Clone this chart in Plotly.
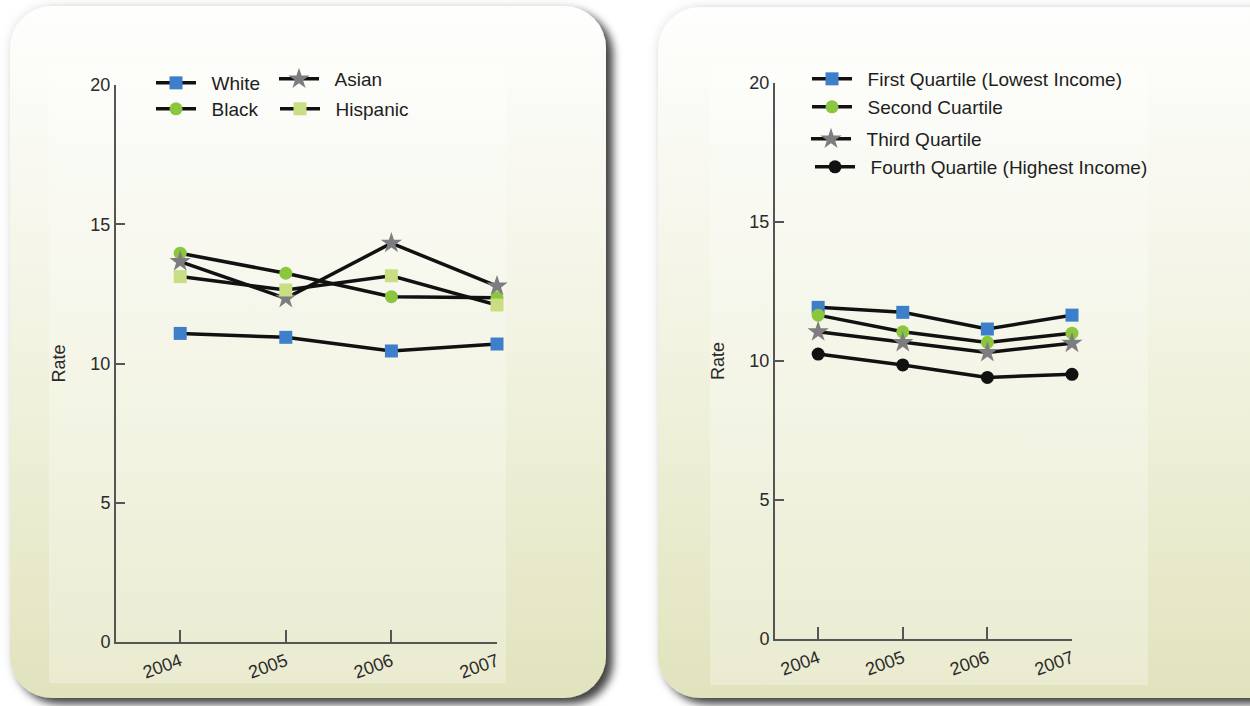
import base64
import plotly.graph_objects as go

# ---------------- data ----------------
years = [2004, 2005, 2006, 2007]
year_labels = ["2004", "2005", "2006", "2007"]

race_names = ["White", "Black", "Asian", "Hispanic"]
white = [11.08, 10.94, 10.45, 10.70]
black = [13.96, 13.24, 12.40, 12.36]
asian = [13.66, 12.34, 14.32, 12.78]
hispanic = [13.12, 12.64, 13.15, 12.10]

income_names = ["First Quartile (Lowest Income)", "Second Cuartile",
                "Third Quartile", "Fourth Quartile (Highest Income)"]
first_q = [11.93, 11.75, 11.15, 11.65]
second_q = [11.65, 11.05, 10.67, 11.00]
third_q = [11.05, 10.67, 10.31, 10.64]
fourth_q = [10.25, 9.86, 9.41, 9.52]

y_ticks = [0, 5, 10, 15, 20]

# ---------------- geometry helpers ----------------
W, H = 1250, 706
FONT = "Liberation Sans, Arial, Helvetica, sans-serif"
NB = "\u00a0\u00a0"


def px_x(v):
    return v / W


def px_y(v):
    return 1 - v / H


# ---------------- background (panels) as SVG image ----------------
svg = f"""<svg xmlns="http://www.w3.org/2000/svg" width="{W}" height="{H}" viewBox="0 0 {W} {H}">
<defs>
<linearGradient id="g" x1="0" y1="0" x2="0" y2="1">
<stop offset="0" stop-color="#fefefd"/>
<stop offset="0.25" stop-color="#f8f8f0"/>
<stop offset="0.6" stop-color="#eef0d9"/>
<stop offset="1" stop-color="#e1e3bd"/>
</linearGradient>
<filter id="s" x="-10%" y="-10%" width="125%" height="125%">
<feDropShadow dx="7" dy="6" stdDeviation="4" flood-color="#000000" flood-opacity="0.72"/>
</filter>
<filter id="s2" x="-10%" y="-10%" width="125%" height="125%">
<feGaussianBlur stdDeviation="4"/>
</filter>
</defs>
<rect width="{W}" height="{H}" fill="#ffffff"/>
<rect x="8" y="4" width="600" height="696" rx="44" fill="#000" fill-opacity="0.08" filter="url(#s2)"/>
<rect x="656" y="5" width="640" height="695" rx="44" fill="#000" fill-opacity="0.08" filter="url(#s2)"/>
<rect x="10" y="6" width="596" height="692" rx="42" fill="url(#g)" filter="url(#s)"/>
<rect x="49" y="68" width="457" height="615" fill="#ffffff" fill-opacity="0.28"/>
<rect x="658" y="7" width="640" height="691" rx="42" fill="url(#g)" filter="url(#s)"/>
<rect x="710" y="67" width="438" height="618" fill="#ffffff" fill-opacity="0.28"/>
</svg>"""
bg_src = "data:image/svg+xml;base64," + base64.b64encode(svg.encode()).decode()

fig = go.Figure()

LINE_W = 3.5
LINE_C = "#111111"

left_series = [
    ("White", white, "square", 13, "#3d7fca", "legend", (157, 83)),
    ("Black", black, "circle", 13, "#8cc63f", "legend2", (157, 109)),
    ("Asian", asian, "star", 16, "#7d7d7f", "legend3", (280, 79)),
    ("Hispanic", hispanic, "square", 13, "#c9de82", "legend4", (281, 109)),
]
right_series = [
    (income_names[0], first_q, "square", 13, "#3d7fca", "legend5", (813, 79)),
    (income_names[1], second_q, "circle", 13, "#8cc63f", "legend6", (813, 107)),
    (income_names[2], third_q, "star", 16, "#7d7d7f", "legend7", (812, 139)),
    (income_names[3], fourth_q, "circle", 13, "#111111", "legend8", (816, 167)),
]

legends = {}
for series, xa, ya in ((left_series, "x", "y"), (right_series, "x2", "y2")):
    for name, vals, sym, size, col, leg, (lx, ly) in series:
        fig.add_trace(go.Scatter(
            x=years, y=vals, name=NB + name, mode="lines+markers",
            line=dict(color=LINE_C, width=LINE_W),
            marker=dict(symbol=sym, size=size, color=col, line=dict(width=0)),
            xaxis=xa, yaxis=ya, legend=leg, cliponaxis=False,
            hoverinfo="x+y+name",
        ))
        legends[leg] = dict(
            x=px_x(lx - 6), y=px_y(ly), xanchor="left", yanchor="middle",
            bgcolor="rgba(0,0,0,0)", borderwidth=0,
            font=dict(family=FONT, size=19, color="#1e1e1e"),
            itemwidth=40,
        )

axis_common = dict(
    showline=True, linecolor="#555555", linewidth=2,
    showgrid=False, zeroline=False, automargin=False,
    tickfont=dict(family=FONT, size=18, color="#2a2a2a"),
    ticks="inside", tickcolor="#555555", tickwidth=2,
)
title_font = dict(family=FONT, size=18, color="#2a2a2a")

layout = dict(
    width=W, height=H, autosize=False,
    margin=dict(l=0, r=0, t=0, b=0, pad=0, autoexpand=False),
    paper_bgcolor="#ffffff",
    plot_bgcolor="rgba(0,0,0,0)",
    images=[dict(source=bg_src, xref="paper", yref="paper", x=0, y=1,
                 sizex=1, sizey=1, xanchor="left", yanchor="top",
                 sizing="stretch", layer="below")],
    xaxis=dict(domain=[px_x(116), px_x(497)], range=[2003.392, 2007],
               tickvals=years, ticktext=year_labels, tickangle=-20,
               ticklen=12, anchor="y", **axis_common),
    yaxis=dict(domain=[px_y(642), px_y(85)], range=[0, 20],
               tickvals=y_ticks, ticklen=9, anchor="x",
               title=dict(text="Rate", font=title_font, standoff=20),
               **axis_common),
    xaxis2=dict(domain=[px_x(775), px_x(1072)], range=[2003.49, 2007],
                tickvals=years, ticktext=year_labels, tickangle=-20,
                ticklen=12, anchor="y2", **axis_common),
    yaxis2=dict(domain=[px_y(639), px_y(83)], range=[0, 20],
                tickvals=y_ticks, ticklen=9, anchor="x2",
                title=dict(text="Rate", font=title_font, standoff=20),
                **axis_common),
    showlegend=True,
)
layout.update(legends)
fig.update_layout(**layout)

fig.write_html(
    "out.html",
    config={"displayModeBar": False},
    post_script="document.body.style.margin='0';document.body.style.overflow='hidden';",
)
